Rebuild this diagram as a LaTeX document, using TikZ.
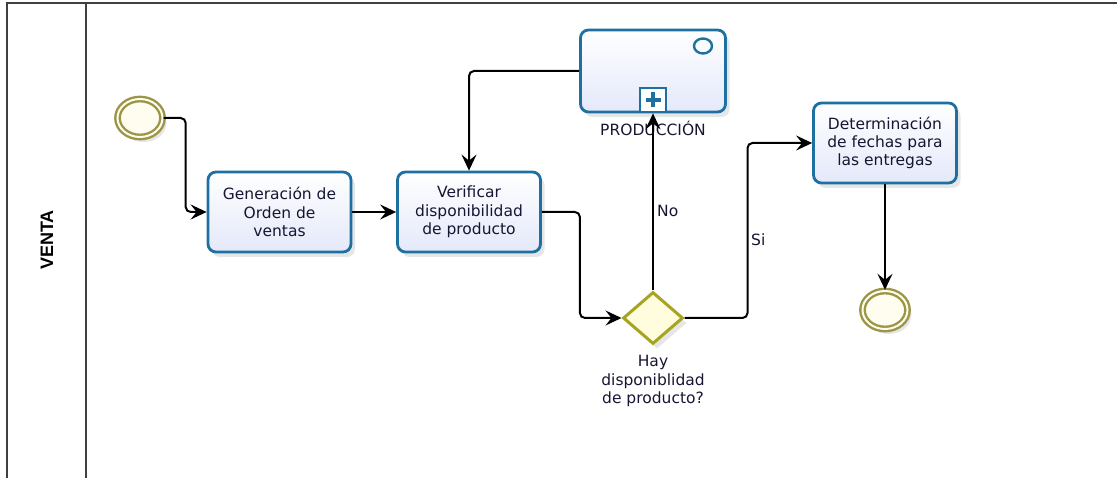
\documentclass[tikz,border=0pt]{standalone}
\usepackage{fontspec}
\setmainfont{DejaVu Sans}
\newfontfamily\lanefont{Liberation Sans}
\usetikzlibrary{shapes.geometric,arrows.meta,shadows,calc}
\definecolor{taskblue}{RGB}{30,112,160}
\definecolor{taskfill}{RGB}{228,233,250}
\definecolor{evolive}{RGB}{155,150,70}
\definecolor{evfill}{RGB}{255,253,240}
\definecolor{gwolive}{RGB}{165,165,35}
\definecolor{gwfill}{RGB}{255,253,222}
\definecolor{txt}{RGB}{22,22,50}
\definecolor{poolgray}{RGB}{64,64,64}
\tikzset{
  lbl/.style={font=\fontsize{15.5}{18.3}\selectfont, text=txt, align=center, inner sep=0pt},
  shade/.style={drop shadow={opacity=0.2, shadow xshift=4pt, shadow yshift=-5pt}},
  task/.style={lbl, shade, draw=taskblue, line width=2.8pt, rounded corners=8pt,
    top color=white, bottom color=taskfill, minimum width=143pt, minimum height=80pt},
  event/.style={shade, ellipse, draw=evolive, line width=2.4pt, double=evfill, double distance=2pt,
    fill=evfill, minimum width=45pt, minimum height=38pt, inner sep=0pt},
  gateway/.style={shade, diamond, draw=gwolive, line width=3pt, fill=gwfill,
    minimum width=60pt, minimum height=52pt, inner sep=0pt},
  flow/.style={draw=black, line width=2pt, rounded corners=5pt,
    -{Stealth[length=16pt,width=15pt,inset=6pt]}},
  pool/.style={draw=poolgray, line width=1.6pt}
}
\begin{document}
\begin{tikzpicture}[x=1pt,y=-1pt]
\useasboundingbox (0,0) rectangle (1117,478);
% pool and lane
\draw[pool] (1117,3) -- (7,3) -- (7,478);
\draw[pool] (86,3) -- (86,478);
\node[rotate=90, font=\lanefont\bfseries\fontsize{18}{20}\selectfont, text=black] (lane) at (47,240) {VENTA};

% nodes
\node[event] (start) at (140,118) {};
\node[task] (t1) at (279.5,212) {Generación de\\Orden de\\ventas};
\node[task] (t2) at (469,212) {Verificar\\disponibilidad\\de producto};
\node[task, minimum width=145pt, minimum height=82pt] (prod) at (653,71) {};
\node[draw=taskblue, line width=2.4pt, ellipse, minimum width=18pt, minimum height=15pt, inner sep=0pt] (prodev) at (703,46) {};
\node[draw=taskblue, line width=2pt, fill=white, minimum width=26pt, minimum height=24pt, inner sep=0pt] (plusbox) at (653,100) {};
\draw[taskblue, line width=4pt] ($(plusbox)+(-7.5,0)$) -- ($(plusbox)+(7.5,0)$);
\draw[taskblue, line width=4pt] ($(plusbox)+(0,-7.5)$) -- ($(plusbox)+(0,7.5)$);
\node[lbl] (prodlbl) at (653,128) {PRODUCCIÓN};
\node[gateway] (gw) at (653,318) {};
\node[lbl] (gwlbl) at (653,381) {Hay\\disponiblidad\\de producto?};
\node[task] (t3) at (885,143) {Determinación\\de fechas para\\las entregas};
\node[event] (end) at (885,310) {};

% flows
\draw[flow] (start.east) -- ++(22,0) |- (t1.west);
\draw[flow] (t1.east) -- (t2.west);
\draw[flow] (t2.east) -- ++(38,0) |- (gw.west);
\draw[flow] (gw.north) -- (prod.south);
\draw[flow] (prod.west) -| (t2.north);
\draw[flow] (gw.east) -- ++(63,0) |- (t3.west);
\draw[flow] (t3.south) -- (end.north);

% flow labels
\node[lbl, anchor=west] (nolbl) at (657,211) {No};
\node[lbl, anchor=west] (silbl) at (751,240) {Si};
\end{tikzpicture}
\end{document}
